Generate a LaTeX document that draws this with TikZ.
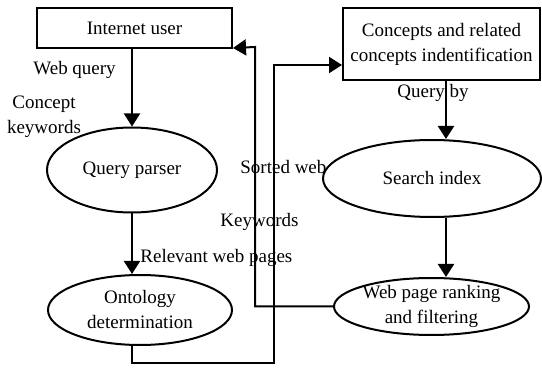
\documentclass[tikz,border=0pt]{standalone}
\usepackage{fontspec}
\setmainfont{Liberation Serif}
\usetikzlibrary{arrows.meta,shapes.geometric}
\begin{document}
\begin{tikzpicture}[x=0.5pt,y=-0.5pt,
  every node/.style={font=\fontsize{9.5}{12.5}\selectfont, inner sep=0pt},
  box/.style={draw, line width=1pt, rectangle, align=center},
  oval/.style={draw, line width=1pt, ellipse, align=center},
  wire/.style={line width=1pt},
  link/.style={wire, -{Triangle[width=8pt,length=6.5pt]}},
  lbl/.style={align=center}]
\useasboundingbox (0,0) rectangle (542,369);

% process boxes
\node[box, minimum width=97.5pt, minimum height=20pt] (user) at (134.5,28) {Internet user};
\node[box, minimum width=98.5pt, minimum height=36pt] (concepts) at (441.5,44)
  {Concepts and related\\concepts indentification};

% process ellipses
\node[oval, minimum width=85pt, minimum height=42.5pt] (parser) at (132,170) {Query parser};
\node[oval, minimum width=92pt, minimum height=35pt] (ontology) at (140,310)
  {Ontology\\determination};
\node[oval, minimum width=109pt, minimum height=38.5pt] (search) at (432,178.5) {Search index};
\node[oval, minimum width=97.5pt, minimum height=28.5pt, inner ysep=-3pt] (ranking) at (431.5,306.5)
  {Web page ranking\\and filtering};

% flow labels
\node[anchor=west] (lwq) at (33,70) {Web query};
\node[lbl] (lck) at (44,117) {Concept\\keywords};
\node[anchor=west] (lsw) at (240,167) {Sorted web};
\node[anchor=west] (lkw) at (220,222) {Keywords};
\node[anchor=west] (lrel) at (140,258) {Relevant web pages};
\node[anchor=west] (lqb) at (397,93) {Query by};

% routing points
\coordinate (low) at (274,363);
\coordinate (rise) at (255,47);
\coordinate (col) at (446,0);

% connectors
\draw[link] (parser.north |- user.south) -- (parser.north);
\draw[link] (parser.south) -- (parser.south |- ontology.north);
\draw[link] (ontology.south -| parser.south) |- (low) |- ([yshift=-10.5pt]concepts.west);
\draw[link] (ranking.west) -| (rise) -- ([yshift=0.5pt]user.south east);
\draw[link] (concepts.south -| col) -- (col |- search.north);
\draw[link] (search.south -| col) -- (col |- ranking.north);
\end{tikzpicture}
\end{document}
